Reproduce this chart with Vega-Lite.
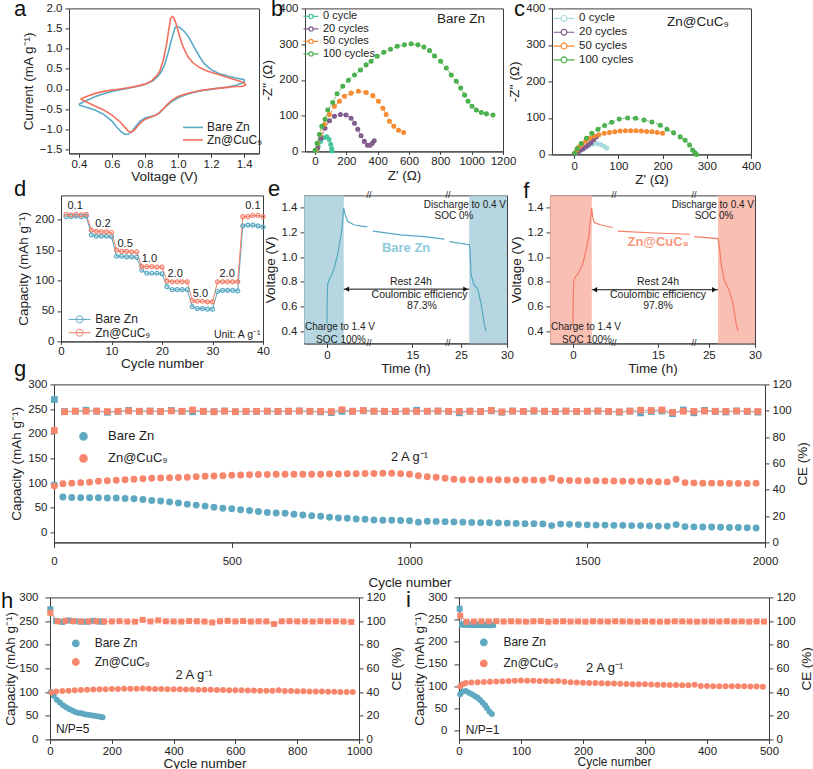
{
"$schema":"https://vega.github.io/schema/vega-lite/v6.json",
"background":"white",
"padding":{"left":0,"top":-2.6,"right":0,"bottom":0},
"config":{
 "font":"Liberation Sans",
 "view":{"stroke":"#3c3c3c","strokeWidth":1},
 "axis":{"grid":false,"domainColor":"#3c3c3c","tickColor":"#3c3c3c","labelColor":"#222","titleColor":"#222","labelFontSize":11.5,"titleFontSize":13.5,"titleFontWeight":"normal","tickSize":4,"labelPadding":3,"labelFlush":false,"labelOverlap":false,"labelSeparation":-100,"titlePadding":4,"tickCount":30},
 "legend":{"labelFontSize":12,"labelColor":"#222","padding":0,"titlePadding":0},
 "text":{"font":"Liberation Sans","color":"#222"}
},
"resolve":{"scale":{"color":"independent"},"legend":{"color":"independent"}},
"spacing":-20,
"datasets":{
"cv":[
{"s":"Bare Zn","v":0.40,"i":-0.38},{"s":"Bare Zn","v":0.45,"i":-0.28},{"s":"Bare Zn","v":0.50,"i":-0.19},{"s":"Bare Zn","v":0.55,"i":-0.12},{"s":"Bare Zn","v":0.60,"i":-0.06},{"s":"Bare Zn","v":0.65,"i":-0.02},{"s":"Bare Zn","v":0.70,"i":0.02},{"s":"Bare Zn","v":0.75,"i":0.06},{"s":"Bare Zn","v":0.80,"i":0.11},{"s":"Bare Zn","v":0.85,"i":0.21},{"s":"Bare Zn","v":0.88,"i":0.32},{"s":"Bare Zn","v":0.90,"i":0.44},{"s":"Bare Zn","v":0.92,"i":0.62},{"s":"Bare Zn","v":0.94,"i":0.90},{"s":"Bare Zn","v":0.96,"i":1.22},{"s":"Bare Zn","v":0.98,"i":1.50},{"s":"Bare Zn","v":0.99,"i":1.56},{"s":"Bare Zn","v":1.01,"i":1.53},{"s":"Bare Zn","v":1.04,"i":1.42},{"s":"Bare Zn","v":1.07,"i":1.25},{"s":"Bare Zn","v":1.10,"i":1.02},{"s":"Bare Zn","v":1.13,"i":0.80},{"s":"Bare Zn","v":1.16,"i":0.62},{"s":"Bare Zn","v":1.20,"i":0.48},{"s":"Bare Zn","v":1.25,"i":0.38},{"s":"Bare Zn","v":1.30,"i":0.32},{"s":"Bare Zn","v":1.35,"i":0.27},{"s":"Bare Zn","v":1.40,"i":0.23},{"s":"Bare Zn","v":1.40,"i":0.16},{"s":"Bare Zn","v":1.35,"i":0.09},{"s":"Bare Zn","v":1.30,"i":0.05},{"s":"Bare Zn","v":1.25,"i":0.02},{"s":"Bare Zn","v":1.20,"i":-0.01},{"s":"Bare Zn","v":1.15,"i":-0.04},{"s":"Bare Zn","v":1.10,"i":-0.08},{"s":"Bare Zn","v":1.05,"i":-0.14},{"s":"Bare Zn","v":1.00,"i":-0.22},{"s":"Bare Zn","v":0.96,"i":-0.32},{"s":"Bare Zn","v":0.92,"i":-0.46},{"s":"Bare Zn","v":0.89,"i":-0.58},{"s":"Bare Zn","v":0.86,"i":-0.66},{"s":"Bare Zn","v":0.83,"i":-0.69},{"s":"Bare Zn","v":0.80,"i":-0.72},{"s":"Bare Zn","v":0.77,"i":-0.80},{"s":"Bare Zn","v":0.74,"i":-0.95},{"s":"Bare Zn","v":0.72,"i":-1.06},{"s":"Bare Zn","v":0.70,"i":-1.12},{"s":"Bare Zn","v":0.68,"i":-1.13},{"s":"Bare Zn","v":0.66,"i":-1.08},{"s":"Bare Zn","v":0.63,"i":-0.95},{"s":"Bare Zn","v":0.60,"i":-0.80},{"s":"Bare Zn","v":0.55,"i":-0.63},{"s":"Bare Zn","v":0.50,"i":-0.53},{"s":"Bare Zn","v":0.45,"i":-0.46},{"s":"Bare Zn","v":0.40,"i":-0.40},
{"s":"Zn@CuC₉","v":0.41,"i":-0.25},{"s":"Zn@CuC₉","v":0.45,"i":-0.18},{"s":"Zn@CuC₉","v":0.50,"i":-0.11},{"s":"Zn@CuC₉","v":0.55,"i":-0.06},{"s":"Zn@CuC₉","v":0.60,"i":-0.03},{"s":"Zn@CuC₉","v":0.65,"i":0.0},{"s":"Zn@CuC₉","v":0.70,"i":0.03},{"s":"Zn@CuC₉","v":0.75,"i":0.07},{"s":"Zn@CuC₉","v":0.80,"i":0.12},{"s":"Zn@CuC₉","v":0.84,"i":0.20},{"s":"Zn@CuC₉","v":0.87,"i":0.32},{"s":"Zn@CuC₉","v":0.89,"i":0.45},{"s":"Zn@CuC₉","v":0.91,"i":0.70},{"s":"Zn@CuC₉","v":0.93,"i":1.10},{"s":"Zn@CuC₉","v":0.945,"i":1.50},{"s":"Zn@CuC₉","v":0.955,"i":1.75},{"s":"Zn@CuC₉","v":0.965,"i":1.80},{"s":"Zn@CuC₉","v":0.975,"i":1.76},{"s":"Zn@CuC₉","v":0.99,"i":1.60},{"s":"Zn@CuC₉","v":1.01,"i":1.30},{"s":"Zn@CuC₉","v":1.03,"i":1.05},{"s":"Zn@CuC₉","v":1.06,"i":0.80},{"s":"Zn@CuC₉","v":1.09,"i":0.65},{"s":"Zn@CuC₉","v":1.13,"i":0.53},{"s":"Zn@CuC₉","v":1.18,"i":0.44},{"s":"Zn@CuC₉","v":1.25,"i":0.35},{"s":"Zn@CuC₉","v":1.32,"i":0.26},{"s":"Zn@CuC₉","v":1.37,"i":0.20},{"s":"Zn@CuC₉","v":1.40,"i":0.15},{"s":"Zn@CuC₉","v":1.41,"i":0.10},{"s":"Zn@CuC₉","v":1.39,"i":0.06},{"s":"Zn@CuC₉","v":1.35,"i":0.06},{"s":"Zn@CuC₉","v":1.30,"i":0.04},{"s":"Zn@CuC₉","v":1.25,"i":0.02},{"s":"Zn@CuC₉","v":1.20,"i":0.0},{"s":"Zn@CuC₉","v":1.15,"i":-0.03},{"s":"Zn@CuC₉","v":1.10,"i":-0.07},{"s":"Zn@CuC₉","v":1.05,"i":-0.12},{"s":"Zn@CuC₉","v":1.00,"i":-0.19},{"s":"Zn@CuC₉","v":0.97,"i":-0.26},{"s":"Zn@CuC₉","v":0.94,"i":-0.36},{"s":"Zn@CuC₉","v":0.91,"i":-0.50},{"s":"Zn@CuC₉","v":0.88,"i":-0.62},{"s":"Zn@CuC₉","v":0.85,"i":-0.68},{"s":"Zn@CuC₉","v":0.82,"i":-0.72},{"s":"Zn@CuC₉","v":0.79,"i":-0.78},{"s":"Zn@CuC₉","v":0.76,"i":-0.90},{"s":"Zn@CuC₉","v":0.74,"i":-1.00},{"s":"Zn@CuC₉","v":0.72,"i":-1.07},{"s":"Zn@CuC₉","v":0.70,"i":-1.05},{"s":"Zn@CuC₉","v":0.68,"i":-0.96},{"s":"Zn@CuC₉","v":0.65,"i":-0.82},{"s":"Zn@CuC₉","v":0.60,"i":-0.65},{"s":"Zn@CuC₉","v":0.55,"i":-0.52},{"s":"Zn@CuC₉","v":0.50,"i":-0.43},{"s":"Zn@CuC₉","v":0.45,"i":-0.33},{"s":"Zn@CuC₉","v":0.41,"i":-0.25}
],
"eisb":[
{"s":"0 cycle","x":10,"y":2},{"s":"0 cycle","x":20,"y":15},{"s":"0 cycle","x":35,"y":28},{"s":"0 cycle","x":55,"y":38},{"s":"0 cycle","x":75,"y":41},{"s":"0 cycle","x":90,"y":33},{"s":"0 cycle","x":100,"y":20},{"s":"0 cycle","x":106,"y":8},{"s":"0 cycle","x":108,"y":1},
{"s":"20 cycles","x":17,"y":9},{"s":"20 cycles","x":38,"y":37},{"s":"20 cycles","x":64,"y":65},{"s":"20 cycles","x":92,"y":86},{"s":"20 cycles","x":124,"y":98},{"s":"20 cycles","x":162,"y":103},{"s":"20 cycles","x":198,"y":102},{"s":"20 cycles","x":230,"y":93},{"s":"20 cycles","x":252,"y":79},{"s":"20 cycles","x":273,"y":62},{"s":"20 cycles","x":294,"y":44},{"s":"20 cycles","x":315,"y":28},{"s":"20 cycles","x":335,"y":17},{"s":"20 cycles","x":352,"y":17},{"s":"20 cycles","x":366,"y":23},{"s":"20 cycles","x":378,"y":30},
{"s":"50 cycles","x":6,"y":3},{"s":"50 cycles","x":17,"y":23},{"s":"50 cycles","x":34,"y":47},{"s":"50 cycles","x":60,"y":75},{"s":"50 cycles","x":92,"y":103},{"s":"50 cycles","x":124,"y":126},{"s":"50 cycles","x":156,"y":140},{"s":"50 cycles","x":188,"y":154},{"s":"50 cycles","x":230,"y":163},{"s":"50 cycles","x":277,"y":168},{"s":"50 cycles","x":326,"y":165},{"s":"50 cycles","x":369,"y":156},{"s":"50 cycles","x":405,"y":140},{"s":"50 cycles","x":433,"y":121},{"s":"50 cycles","x":454,"y":103},{"s":"50 cycles","x":475,"y":84},{"s":"50 cycles","x":503,"y":70},{"s":"50 cycles","x":533,"y":59},{"s":"50 cycles","x":566,"y":53},
{"s":"100 cycles","x":0,"y":3},{"s":"100 cycles","x":13,"y":23},{"s":"100 cycles","x":28,"y":47},{"s":"100 cycles","x":43,"y":70},{"s":"100 cycles","x":64,"y":90},{"s":"100 cycles","x":81,"y":116},{"s":"100 cycles","x":113,"y":137},{"s":"100 cycles","x":141,"y":161},{"s":"100 cycles","x":177,"y":182},{"s":"100 cycles","x":213,"y":199},{"s":"100 cycles","x":252,"y":214},{"s":"100 cycles","x":290,"y":228},{"s":"100 cycles","x":326,"y":242},{"s":"100 cycles","x":358,"y":252},{"s":"100 cycles","x":397,"y":266},{"s":"100 cycles","x":439,"y":277},{"s":"100 cycles","x":482,"y":286},{"s":"100 cycles","x":525,"y":294},{"s":"100 cycles","x":571,"y":298},{"s":"100 cycles","x":614,"y":301},{"s":"100 cycles","x":657,"y":298},{"s":"100 cycles","x":695,"y":292},{"s":"100 cycles","x":731,"y":282},{"s":"100 cycles","x":763,"y":267},{"s":"100 cycles","x":802,"y":252},{"s":"100 cycles","x":838,"y":233},{"s":"100 cycles","x":870,"y":214},{"s":"100 cycles","x":902,"y":196},{"s":"100 cycles","x":930,"y":177},{"s":"100 cycles","x":955,"y":158},{"s":"100 cycles","x":977,"y":140},{"s":"100 cycles","x":1002,"y":126},{"s":"100 cycles","x":1030,"y":116},{"s":"100 cycles","x":1062,"y":109},{"s":"100 cycles","x":1094,"y":105},{"s":"100 cycles","x":1136,"y":102}
],
"eisc":[
{"s":"0 cycle","x":3,"y":1},{"s":"0 cycle","x":12,"y":8},{"s":"0 cycle","x":22,"y":16},{"s":"0 cycle","x":32,"y":23},{"s":"0 cycle","x":42,"y":28},{"s":"0 cycle","x":52,"y":30},{"s":"0 cycle","x":60,"y":27},{"s":"0 cycle","x":68,"y":22},{"s":"0 cycle","x":74,"y":17},
{"s":"20 cycles","x":0,"y":1},{"s":"20 cycles","x":5,"y":4},{"s":"20 cycles","x":10,"y":8},{"s":"20 cycles","x":15,"y":12},{"s":"20 cycles","x":20,"y":15},{"s":"20 cycles","x":26,"y":20},{"s":"20 cycles","x":32,"y":26},{"s":"20 cycles","x":38,"y":32},{"s":"20 cycles","x":44,"y":40},{"s":"20 cycles","x":50,"y":48},
{"s":"50 cycles","x":2,"y":4},{"s":"50 cycles","x":6,"y":12},{"s":"50 cycles","x":11,"y":20},{"s":"50 cycles","x":18,"y":28},{"s":"50 cycles","x":26,"y":36},{"s":"50 cycles","x":35,"y":44},{"s":"50 cycles","x":45,"y":50},{"s":"50 cycles","x":56,"y":54},{"s":"50 cycles","x":68,"y":58},{"s":"50 cycles","x":80,"y":60},{"s":"50 cycles","x":92,"y":62},{"s":"50 cycles","x":104,"y":64},{"s":"50 cycles","x":116,"y":65},{"s":"50 cycles","x":128,"y":65},{"s":"50 cycles","x":140,"y":65},{"s":"50 cycles","x":152,"y":64},{"s":"50 cycles","x":164,"y":63},{"s":"50 cycles","x":176,"y":62},{"s":"50 cycles","x":188,"y":60},{"s":"50 cycles","x":200,"y":58},
{"s":"100 cycles","x":1.5,"y":3},{"s":"100 cycles","x":7,"y":16},{"s":"100 cycles","x":16,"y":30},{"s":"100 cycles","x":28,"y":44},{"s":"100 cycles","x":40,"y":58},{"s":"100 cycles","x":54,"y":69},{"s":"100 cycles","x":69,"y":79},{"s":"100 cycles","x":85,"y":88},{"s":"100 cycles","x":102,"y":97},{"s":"100 cycles","x":121,"y":100},{"s":"100 cycles","x":139,"y":99},{"s":"100 cycles","x":158,"y":94},{"s":"100 cycles","x":176,"y":89},{"s":"100 cycles","x":195,"y":80},{"s":"100 cycles","x":210,"y":69},{"s":"100 cycles","x":225,"y":59},{"s":"100 cycles","x":240,"y":48},{"s":"100 cycles","x":251,"y":39},{"s":"100 cycles","x":261,"y":26},{"s":"100 cycles","x":268,"y":12},{"s":"100 cycles","x":273,"y":5},{"s":"100 cycles","x":277,"y":0}
],
"rate":[
{"c":1,"Bare Zn":205,"Zn@CuC₉":209},{"c":2,"Bare Zn":205,"Zn@CuC₉":208},{"c":3,"Bare Zn":206,"Zn@CuC₉":209},{"c":4,"Bare Zn":205,"Zn@CuC₉":208},{"c":5,"Bare Zn":206,"Zn@CuC₉":209},
{"c":6,"Bare Zn":175,"Zn@CuC₉":183},{"c":7,"Bare Zn":173,"Zn@CuC₉":181},{"c":8,"Bare Zn":173,"Zn@CuC₉":180},{"c":9,"Bare Zn":173,"Zn@CuC₉":180},{"c":10,"Bare Zn":172,"Zn@CuC₉":179},
{"c":11,"Bare Zn":140,"Zn@CuC₉":150},{"c":12,"Bare Zn":140,"Zn@CuC₉":148},{"c":13,"Bare Zn":139,"Zn@CuC₉":148},{"c":14,"Bare Zn":139,"Zn@CuC₉":147},{"c":15,"Bare Zn":138,"Zn@CuC₉":147},
{"c":16,"Bare Zn":117,"Zn@CuC₉":123},{"c":17,"Bare Zn":112,"Zn@CuC₉":123},{"c":18,"Bare Zn":112,"Zn@CuC₉":123},{"c":19,"Bare Zn":112,"Zn@CuC₉":122},{"c":20,"Bare Zn":111,"Zn@CuC₉":122},
{"c":21,"Bare Zn":90,"Zn@CuC₉":99},{"c":22,"Bare Zn":85,"Zn@CuC₉":98},{"c":23,"Bare Zn":85,"Zn@CuC₉":98},{"c":24,"Bare Zn":85,"Zn@CuC₉":98},{"c":25,"Bare Zn":85,"Zn@CuC₉":98},
{"c":26,"Bare Zn":57,"Zn@CuC₉":67},{"c":27,"Bare Zn":54,"Zn@CuC₉":66},{"c":28,"Bare Zn":54,"Zn@CuC₉":66},{"c":29,"Bare Zn":53,"Zn@CuC₉":65},{"c":30,"Bare Zn":53,"Zn@CuC₉":65},
{"c":31,"Bare Zn":82,"Zn@CuC₉":98},{"c":32,"Bare Zn":84,"Zn@CuC₉":98},{"c":33,"Bare Zn":84,"Zn@CuC₉":98},{"c":34,"Bare Zn":84,"Zn@CuC₉":98},{"c":35,"Bare Zn":83,"Zn@CuC₉":98},
{"c":36,"Bare Zn":190,"Zn@CuC₉":205},{"c":37,"Bare Zn":191,"Zn@CuC₉":205},{"c":38,"Bare Zn":191,"Zn@CuC₉":207},{"c":39,"Bare Zn":190,"Zn@CuC₉":207},{"c":40,"Bare Zn":188,"Zn@CuC₉":205}
],
"ve":[
{"t":0,"v":0.46,"seg":1},{"t":0.02,"v":0.62,"seg":1},{"t":0.09,"v":0.78,"seg":1},{"t":0.3,"v":0.82,"seg":1},{"t":0.52,"v":0.84,"seg":1},{"t":0.95,"v":0.91,"seg":1},{"t":1.39,"v":1.02,"seg":1},{"t":1.6,"v":1.09,"seg":1},{"t":1.83,"v":1.17,"seg":1},{"t":2.05,"v":1.29,"seg":1},{"t":2.18,"v":1.40,"seg":1},{"t":2.35,"v":1.35,"seg":1},{"t":2.7,"v":1.29,"seg":1},{"t":3.56,"v":1.26,"seg":1},{"t":5.3,"v":1.245,"seg":1},
{"t":9.97,"v":1.21,"seg":2},{"t":13.55,"v":1.18,"seg":2},{"t":16.5,"v":1.165,"seg":2},{"t":19.03,"v":1.145,"seg":2},
{"t":23.74,"v":1.125,"seg":3},{"t":25.92,"v":1.10,"seg":3},{"t":25.99,"v":1.05,"seg":3},{"t":26.1,"v":0.86,"seg":3},{"t":26.39,"v":0.78,"seg":3},{"t":26.83,"v":0.74,"seg":3},{"t":27.19,"v":0.62,"seg":3},{"t":27.55,"v":0.45,"seg":3},{"t":27.73,"v":0.40,"seg":3}
],
"vf":[
{"t":0,"v":0.45,"seg":1},{"t":0.02,"v":0.65,"seg":1},{"t":0.1,"v":0.80,"seg":1},{"t":0.3,"v":0.84,"seg":1},{"t":0.61,"v":0.86,"seg":1},{"t":1.26,"v":0.94,"seg":1},{"t":1.69,"v":1.05,"seg":1},{"t":2.05,"v":1.16,"seg":1},{"t":2.26,"v":1.29,"seg":1},{"t":2.44,"v":1.40,"seg":1},{"t":2.57,"v":1.32,"seg":1},{"t":2.78,"v":1.28,"seg":1},{"t":3.65,"v":1.26,"seg":1},{"t":5.17,"v":1.24,"seg":1},
{"t":9.96,"v":1.21,"seg":2},{"t":14.54,"v":1.195,"seg":2},{"t":19.04,"v":1.185,"seg":2},
{"t":23.43,"v":1.165,"seg":3},{"t":25.98,"v":1.15,"seg":3},{"t":26.15,"v":1.08,"seg":3},{"t":26.34,"v":0.94,"seg":3},{"t":26.7,"v":0.81,"seg":3},{"t":27.25,"v":0.72,"seg":3},{"t":27.62,"v":0.62,"seg":3},{"t":27.98,"v":0.45,"seg":3},{"t":28.17,"v":0.40,"seg":3}
],
"gcap":[
{"c":1,"Bare Zn":97,"Zn@CuC₉":94},{"c":25,"Bare Zn":72,"Zn@CuC₉":99},{"c":50,"Bare Zn":71,"Zn@CuC₉":100},{"c":75,"Bare Zn":70.5,"Zn@CuC₉":101},{"c":100,"Bare Zn":70.5,"Zn@CuC₉":102},{"c":125,"Bare Zn":70.5,"Zn@CuC₉":104},{"c":150,"Bare Zn":70,"Zn@CuC₉":105},{"c":175,"Bare Zn":70,"Zn@CuC₉":106},{"c":200,"Bare Zn":69,"Zn@CuC₉":107},{"c":225,"Bare Zn":68.5,"Zn@CuC₉":108},{"c":250,"Bare Zn":67,"Zn@CuC₉":109},{"c":275,"Bare Zn":65,"Zn@CuC₉":110},{"c":300,"Bare Zn":64,"Zn@CuC₉":110.5},{"c":325,"Bare Zn":62,"Zn@CuC₉":111},{"c":350,"Bare Zn":60,"Zn@CuC₉":111.5},{"c":375,"Bare Zn":57.5,"Zn@CuC₉":112},{"c":400,"Bare Zn":55.5,"Zn@CuC₉":113},{"c":425,"Bare Zn":53.5,"Zn@CuC₉":114},{"c":450,"Bare Zn":51.5,"Zn@CuC₉":114.5},{"c":475,"Bare Zn":49,"Zn@CuC₉":115},{"c":500,"Bare Zn":48,"Zn@CuC₉":116},{"c":525,"Bare Zn":46,"Zn@CuC₉":116.5},{"c":550,"Bare Zn":44.5,"Zn@CuC₉":117},{"c":575,"Bare Zn":42.5,"Zn@CuC₉":117.5},{"c":600,"Bare Zn":40.5,"Zn@CuC₉":117.5},{"c":625,"Bare Zn":39.7,"Zn@CuC₉":118},{"c":650,"Bare Zn":39,"Zn@CuC₉":118},{"c":675,"Bare Zn":37,"Zn@CuC₉":118},{"c":700,"Bare Zn":35.6,"Zn@CuC₉":118},{"c":725,"Bare Zn":34,"Zn@CuC₉":118},{"c":750,"Bare Zn":33,"Zn@CuC₉":118},{"c":775,"Bare Zn":31,"Zn@CuC₉":118.5},{"c":800,"Bare Zn":29.5,"Zn@CuC₉":118.5},{"c":825,"Bare Zn":29,"Zn@CuC₉":119},{"c":850,"Bare Zn":27.5,"Zn@CuC₉":119},{"c":875,"Bare Zn":26.7,"Zn@CuC₉":119.5},{"c":900,"Bare Zn":25.5,"Zn@CuC₉":119.5},{"c":925,"Bare Zn":25,"Zn@CuC₉":120},{"c":950,"Bare Zn":24.7,"Zn@CuC₉":120},{"c":975,"Bare Zn":24.5,"Zn@CuC₉":119},{"c":1000,"Bare Zn":24,"Zn@CuC₉":118},{"c":1025,"Bare Zn":21,"Zn@CuC₉":115},{"c":1050,"Bare Zn":23,"Zn@CuC₉":113},{"c":1075,"Bare Zn":22.5,"Zn@CuC₉":112},{"c":1100,"Bare Zn":22,"Zn@CuC₉":110},{"c":1125,"Bare Zn":21.5,"Zn@CuC₉":108},{"c":1150,"Bare Zn":21,"Zn@CuC₉":107},{"c":1175,"Bare Zn":20.5,"Zn@CuC₉":107},{"c":1200,"Bare Zn":20,"Zn@CuC₉":107},{"c":1225,"Bare Zn":20,"Zn@CuC₉":107},{"c":1250,"Bare Zn":19.5,"Zn@CuC₉":107},{"c":1275,"Bare Zn":19,"Zn@CuC₉":106.5},{"c":1300,"Bare Zn":18.5,"Zn@CuC₉":106.5},{"c":1325,"Bare Zn":18,"Zn@CuC₉":106.5},{"c":1350,"Bare Zn":18,"Zn@CuC₉":106.5},{"c":1375,"Bare Zn":17.5,"Zn@CuC₉":106},{"c":1400,"Bare Zn":14,"Zn@CuC₉":110},{"c":1425,"Bare Zn":17,"Zn@CuC₉":105.5},{"c":1450,"Bare Zn":16.5,"Zn@CuC₉":105.5},{"c":1475,"Bare Zn":16,"Zn@CuC₉":105},{"c":1500,"Bare Zn":15.5,"Zn@CuC₉":105},{"c":1525,"Bare Zn":15,"Zn@CuC₉":105},{"c":1550,"Bare Zn":15,"Zn@CuC₉":104.5},{"c":1575,"Bare Zn":14.5,"Zn@CuC₉":104.5},{"c":1600,"Bare Zn":14.5,"Zn@CuC₉":104},{"c":1625,"Bare Zn":14,"Zn@CuC₉":104},{"c":1650,"Bare Zn":14,"Zn@CuC₉":104},{"c":1675,"Bare Zn":13.5,"Zn@CuC₉":103.5},{"c":1700,"Bare Zn":13,"Zn@CuC₉":103},{"c":1725,"Bare Zn":13,"Zn@CuC₉":102.5},{"c":1750,"Bare Zn":16,"Zn@CuC₉":108},{"c":1775,"Bare Zn":12,"Zn@CuC₉":101},{"c":1800,"Bare Zn":11.5,"Zn@CuC₉":100.5},{"c":1825,"Bare Zn":11,"Zn@CuC₉":100},{"c":1850,"Bare Zn":11,"Zn@CuC₉":100},{"c":1875,"Bare Zn":10.5,"Zn@CuC₉":100},{"c":1900,"Bare Zn":10,"Zn@CuC₉":99.5},{"c":1925,"Bare Zn":10,"Zn@CuC₉":99.5},{"c":1950,"Bare Zn":9.5,"Zn@CuC₉":99.5},{"c":1975,"Bare Zn":9,"Zn@CuC₉":100}
],
"gce":[
{"c":1,"Bare Zn":108.5,"Zn@CuC₉":85},{"c":30,"Bare Zn":99.4,"Zn@CuC₉":99.2},{"c":60,"Bare Zn":99.7,"Zn@CuC₉":99.6},{"c":90,"Bare Zn":100.4,"Zn@CuC₉":99.6},{"c":120,"Bare Zn":99.6,"Zn@CuC₉":99.8},{"c":150,"Bare Zn":98.8,"Zn@CuC₉":99.4},{"c":180,"Bare Zn":99.5,"Zn@CuC₉":99.6},{"c":210,"Bare Zn":100.3,"Zn@CuC₉":99.8},{"c":240,"Bare Zn":99.6,"Zn@CuC₉":99.5},{"c":270,"Bare Zn":99.7,"Zn@CuC₉":99.7},{"c":300,"Bare Zn":99.4,"Zn@CuC₉":99.4},{"c":330,"Bare Zn":100.2,"Zn@CuC₉":99.8},{"c":360,"Bare Zn":99.5,"Zn@CuC₉":99.6},{"c":390,"Bare Zn":99.2,"Zn@CuC₉":100.6},{"c":420,"Bare Zn":99.6,"Zn@CuC₉":99.5},{"c":450,"Bare Zn":99.3,"Zn@CuC₉":99.2},{"c":480,"Bare Zn":99.8,"Zn@CuC₉":99.7},{"c":510,"Bare Zn":99.2,"Zn@CuC₉":99.3},{"c":540,"Bare Zn":99.5,"Zn@CuC₉":99.6},{"c":570,"Bare Zn":99.4,"Zn@CuC₉":99.6},{"c":600,"Bare Zn":99.6,"Zn@CuC₉":99.7},{"c":630,"Bare Zn":99.5,"Zn@CuC₉":99.5},{"c":660,"Bare Zn":99.6,"Zn@CuC₉":99.6},{"c":690,"Bare Zn":99.8,"Zn@CuC₉":99.8},{"c":720,"Bare Zn":99.6,"Zn@CuC₉":99.5},{"c":750,"Bare Zn":99.1,"Zn@CuC₉":99.6},{"c":780,"Bare Zn":98.6,"Zn@CuC₉":99.4},{"c":810,"Bare Zn":99.5,"Zn@CuC₉":100.8},{"c":840,"Bare Zn":99.6,"Zn@CuC₉":99.6},{"c":870,"Bare Zn":99.9,"Zn@CuC₉":100.2},{"c":900,"Bare Zn":99.6,"Zn@CuC₉":99.7},{"c":930,"Bare Zn":99.5,"Zn@CuC₉":99.6},{"c":960,"Bare Zn":99.4,"Zn@CuC₉":99.5},{"c":990,"Bare Zn":99.6,"Zn@CuC₉":99.7},{"c":1020,"Bare Zn":100.4,"Zn@CuC₉":99.4},{"c":1050,"Bare Zn":99.6,"Zn@CuC₉":99.6},{"c":1080,"Bare Zn":99.7,"Zn@CuC₉":99.8},{"c":1110,"Bare Zn":99.5,"Zn@CuC₉":99.6},{"c":1140,"Bare Zn":98.4,"Zn@CuC₉":99.5},{"c":1170,"Bare Zn":99.6,"Zn@CuC₉":99.7},{"c":1200,"Bare Zn":99.4,"Zn@CuC₉":99.4},{"c":1230,"Bare Zn":99.9,"Zn@CuC₉":100.3},{"c":1260,"Bare Zn":98.8,"Zn@CuC₉":99.2},{"c":1290,"Bare Zn":99.7,"Zn@CuC₉":99.8},{"c":1320,"Bare Zn":99.5,"Zn@CuC₉":99.5},{"c":1350,"Bare Zn":99.6,"Zn@CuC₉":100.1},{"c":1380,"Bare Zn":99.6,"Zn@CuC₉":99.6},{"c":1410,"Bare Zn":99.3,"Zn@CuC₉":99.4},{"c":1440,"Bare Zn":99.7,"Zn@CuC₉":99.7},{"c":1470,"Bare Zn":99.5,"Zn@CuC₉":99.5},{"c":1500,"Bare Zn":99.6,"Zn@CuC₉":99.6},{"c":1530,"Bare Zn":99.7,"Zn@CuC₉":99.8},{"c":1560,"Bare Zn":99.5,"Zn@CuC₉":99.5},{"c":1590,"Bare Zn":98.9,"Zn@CuC₉":99.2},{"c":1620,"Bare Zn":99.7,"Zn@CuC₉":99.7},{"c":1650,"Bare Zn":98.3,"Zn@CuC₉":100.4},{"c":1680,"Bare Zn":99.4,"Zn@CuC₉":100.2},{"c":1710,"Bare Zn":99.8,"Zn@CuC₉":100.6},{"c":1740,"Bare Zn":97.8,"Zn@CuC₉":98.8},{"c":1770,"Bare Zn":100.6,"Zn@CuC₉":99.6},{"c":1800,"Bare Zn":98.4,"Zn@CuC₉":99.5},{"c":1830,"Bare Zn":100.3,"Zn@CuC₉":99.7},{"c":1860,"Bare Zn":99.5,"Zn@CuC₉":99.6},{"c":1890,"Bare Zn":99.0,"Zn@CuC₉":99.5},{"c":1920,"Bare Zn":99.8,"Zn@CuC₉":99.8},{"c":1950,"Bare Zn":99.5,"Zn@CuC₉":99.6},{"c":1980,"Bare Zn":98.9,"Zn@CuC₉":99.4}
],
"hcap":[
{"s":"Bare Zn","c":3,"v":100},{"s":"Bare Zn","c":12,"v":92},{"s":"Bare Zn","c":22,"v":84},{"s":"Bare Zn","c":32,"v":78},{"s":"Bare Zn","c":42,"v":72},{"s":"Bare Zn","c":52,"v":68},{"s":"Bare Zn","c":62,"v":64},{"s":"Bare Zn","c":72,"v":61},{"s":"Bare Zn","c":82,"v":58},{"s":"Bare Zn","c":92,"v":56},{"s":"Bare Zn","c":102,"v":55},{"s":"Bare Zn","c":112,"v":53},{"s":"Bare Zn","c":122,"v":52},{"s":"Bare Zn","c":132,"v":51},{"s":"Bare Zn","c":142,"v":50},{"s":"Bare Zn","c":152,"v":49},{"s":"Bare Zn","c":162,"v":48},{"s":"Bare Zn","c":170,"v":47},
{"s":"Zn@CuC₉","c":5,"v":99},{"s":"Zn@CuC₉","c":20,"v":101},{"s":"Zn@CuC₉","c":40,"v":102},{"s":"Zn@CuC₉","c":60,"v":103},{"s":"Zn@CuC₉","c":80,"v":104},{"s":"Zn@CuC₉","c":100,"v":104.5},{"s":"Zn@CuC₉","c":120,"v":105},{"s":"Zn@CuC₉","c":140,"v":105.5},{"s":"Zn@CuC₉","c":160,"v":106},{"s":"Zn@CuC₉","c":180,"v":106},{"s":"Zn@CuC₉","c":200,"v":106.5},{"s":"Zn@CuC₉","c":220,"v":106.5},{"s":"Zn@CuC₉","c":240,"v":107},{"s":"Zn@CuC₉","c":260,"v":107},{"s":"Zn@CuC₉","c":280,"v":107},{"s":"Zn@CuC₉","c":300,"v":107.5},{"s":"Zn@CuC₉","c":320,"v":107},{"s":"Zn@CuC₉","c":340,"v":106.5},{"s":"Zn@CuC₉","c":360,"v":106.5},{"s":"Zn@CuC₉","c":380,"v":106},{"s":"Zn@CuC₉","c":400,"v":106},{"s":"Zn@CuC₉","c":420,"v":106},{"s":"Zn@CuC₉","c":440,"v":105.5},{"s":"Zn@CuC₉","c":460,"v":105.5},{"s":"Zn@CuC₉","c":480,"v":105},{"s":"Zn@CuC₉","c":500,"v":105},{"s":"Zn@CuC₉","c":520,"v":105},{"s":"Zn@CuC₉","c":540,"v":104.5},{"s":"Zn@CuC₉","c":560,"v":104.5},{"s":"Zn@CuC₉","c":580,"v":104},{"s":"Zn@CuC₉","c":600,"v":104},{"s":"Zn@CuC₉","c":620,"v":104},{"s":"Zn@CuC₉","c":640,"v":103.5},{"s":"Zn@CuC₉","c":660,"v":103.5},{"s":"Zn@CuC₉","c":680,"v":103},{"s":"Zn@CuC₉","c":700,"v":103},{"s":"Zn@CuC₉","c":720,"v":103},{"s":"Zn@CuC₉","c":740,"v":104},{"s":"Zn@CuC₉","c":760,"v":102},{"s":"Zn@CuC₉","c":780,"v":102},{"s":"Zn@CuC₉","c":800,"v":101.5},{"s":"Zn@CuC₉","c":820,"v":101.5},{"s":"Zn@CuC₉","c":840,"v":101},{"s":"Zn@CuC₉","c":860,"v":101},{"s":"Zn@CuC₉","c":880,"v":101},{"s":"Zn@CuC₉","c":900,"v":100.5},{"s":"Zn@CuC₉","c":920,"v":100.5},{"s":"Zn@CuC₉","c":940,"v":100},{"s":"Zn@CuC₉","c":960,"v":100},{"s":"Zn@CuC₉","c":980,"v":100}
],
"hce":[
{"s":"Bare Zn","c":1,"v":110},{"s":"Bare Zn","c":20,"v":100},{"s":"Bare Zn","c":40,"v":99.3},{"s":"Bare Zn","c":60,"v":100.5},{"s":"Bare Zn","c":80,"v":99.8},{"s":"Bare Zn","c":100,"v":99.5},{"s":"Bare Zn","c":120,"v":99.4},{"s":"Bare Zn","c":140,"v":100.2},{"s":"Bare Zn","c":160,"v":99.6},{"s":"Bare Zn","c":170,"v":99.5},
{"s":"Zn@CuC₉","c":1,"v":107},{"s":"Zn@CuC₉","c":25,"v":99.8},{"s":"Zn@CuC₉","c":50,"v":100.2},{"s":"Zn@CuC₉","c":75,"v":100},{"s":"Zn@CuC₉","c":100,"v":99.6},{"s":"Zn@CuC₉","c":125,"v":99.7},{"s":"Zn@CuC₉","c":150,"v":99.8},{"s":"Zn@CuC₉","c":175,"v":99.6},{"s":"Zn@CuC₉","c":200,"v":99.7},{"s":"Zn@CuC₉","c":225,"v":99.9},{"s":"Zn@CuC₉","c":250,"v":99.6},{"s":"Zn@CuC₉","c":275,"v":99.5},{"s":"Zn@CuC₉","c":300,"v":101},{"s":"Zn@CuC₉","c":325,"v":99.7},{"s":"Zn@CuC₉","c":350,"v":100.6},{"s":"Zn@CuC₉","c":375,"v":99.8},{"s":"Zn@CuC₉","c":400,"v":99.7},{"s":"Zn@CuC₉","c":425,"v":99.6},{"s":"Zn@CuC₉","c":450,"v":100},{"s":"Zn@CuC₉","c":475,"v":99.8},{"s":"Zn@CuC₉","c":500,"v":99.6},{"s":"Zn@CuC₉","c":525,"v":98.8},{"s":"Zn@CuC₉","c":550,"v":99.8},{"s":"Zn@CuC₉","c":575,"v":100.2},{"s":"Zn@CuC₉","c":600,"v":99.7},{"s":"Zn@CuC₉","c":625,"v":100},{"s":"Zn@CuC₉","c":650,"v":99.6},{"s":"Zn@CuC₉","c":675,"v":99.8},{"s":"Zn@CuC₉","c":700,"v":99.7},{"s":"Zn@CuC₉","c":725,"v":97.5},{"s":"Zn@CuC₉","c":750,"v":99.8},{"s":"Zn@CuC₉","c":775,"v":99.9},{"s":"Zn@CuC₉","c":800,"v":99.7},{"s":"Zn@CuC₉","c":825,"v":99.8},{"s":"Zn@CuC₉","c":850,"v":99.6},{"s":"Zn@CuC₉","c":875,"v":99.9},{"s":"Zn@CuC₉","c":900,"v":99.7},{"s":"Zn@CuC₉","c":925,"v":99.8},{"s":"Zn@CuC₉","c":950,"v":99.6},{"s":"Zn@CuC₉","c":975,"v":99.3}
],
"icap":[
{"s":"Bare Zn","c":2,"v":82},{"s":"Bare Zn","c":6,"v":88},{"s":"Bare Zn","c":11,"v":89},{"s":"Bare Zn","c":16,"v":85},{"s":"Bare Zn","c":21,"v":82},{"s":"Bare Zn","c":26,"v":77},{"s":"Bare Zn","c":30,"v":74},{"s":"Bare Zn","c":34,"v":69},{"s":"Bare Zn","c":38,"v":63},{"s":"Bare Zn","c":42,"v":57},{"s":"Bare Zn","c":45,"v":51},{"s":"Bare Zn","c":49,"v":43},{"s":"Bare Zn","c":53,"v":37},
{"s":"Zn@CuC₉","c":2,"v":100},{"s":"Zn@CuC₉","c":6,"v":104},{"s":"Zn@CuC₉","c":11,"v":107},{"s":"Zn@CuC₉","c":20,"v":108},{"s":"Zn@CuC₉","c":30,"v":109},{"s":"Zn@CuC₉","c":40,"v":109.5},{"s":"Zn@CuC₉","c":50,"v":110},{"s":"Zn@CuC₉","c":60,"v":110.5},{"s":"Zn@CuC₉","c":70,"v":111},{"s":"Zn@CuC₉","c":80,"v":111.5},{"s":"Zn@CuC₉","c":90,"v":112},{"s":"Zn@CuC₉","c":100,"v":112.5},{"s":"Zn@CuC₉","c":110,"v":112},{"s":"Zn@CuC₉","c":120,"v":112},{"s":"Zn@CuC₉","c":130,"v":111.5},{"s":"Zn@CuC₉","c":140,"v":111.5},{"s":"Zn@CuC₉","c":150,"v":111},{"s":"Zn@CuC₉","c":160,"v":111.5},{"s":"Zn@CuC₉","c":170,"v":110},{"s":"Zn@CuC₉","c":180,"v":109},{"s":"Zn@CuC₉","c":190,"v":108},{"s":"Zn@CuC₉","c":200,"v":107.5},{"s":"Zn@CuC₉","c":210,"v":107},{"s":"Zn@CuC₉","c":220,"v":107},{"s":"Zn@CuC₉","c":230,"v":106.5},{"s":"Zn@CuC₉","c":240,"v":106},{"s":"Zn@CuC₉","c":250,"v":106},{"s":"Zn@CuC₉","c":260,"v":105.5},{"s":"Zn@CuC₉","c":270,"v":105},{"s":"Zn@CuC₉","c":280,"v":104.5},{"s":"Zn@CuC₉","c":290,"v":104},{"s":"Zn@CuC₉","c":300,"v":104},{"s":"Zn@CuC₉","c":310,"v":103.5},{"s":"Zn@CuC₉","c":320,"v":103},{"s":"Zn@CuC₉","c":330,"v":103},{"s":"Zn@CuC₉","c":340,"v":102.5},{"s":"Zn@CuC₉","c":350,"v":102.5},{"s":"Zn@CuC₉","c":360,"v":102},{"s":"Zn@CuC₉","c":370,"v":102},{"s":"Zn@CuC₉","c":380,"v":103},{"s":"Zn@CuC₉","c":390,"v":100.5},{"s":"Zn@CuC₉","c":400,"v":100.5},{"s":"Zn@CuC₉","c":410,"v":100},{"s":"Zn@CuC₉","c":420,"v":100},{"s":"Zn@CuC₉","c":430,"v":100},{"s":"Zn@CuC₉","c":440,"v":99.5},{"s":"Zn@CuC₉","c":450,"v":99.5},{"s":"Zn@CuC₉","c":460,"v":99.5},{"s":"Zn@CuC₉","c":470,"v":99},{"s":"Zn@CuC₉","c":480,"v":99},{"s":"Zn@CuC₉","c":490,"v":98.5}
],
"ice":[
{"s":"Bare Zn","c":1,"v":110.4},{"s":"Bare Zn","c":5,"v":97.2},{"s":"Bare Zn","c":10,"v":96.8},{"s":"Bare Zn","c":15,"v":97},{"s":"Bare Zn","c":20,"v":96.6},{"s":"Bare Zn","c":25,"v":96.9},{"s":"Bare Zn","c":30,"v":96.7},{"s":"Bare Zn","c":35,"v":97},{"s":"Bare Zn","c":40,"v":96.6},{"s":"Bare Zn","c":45,"v":96.8},{"s":"Bare Zn","c":50,"v":96.5},{"s":"Bare Zn","c":55,"v":96.8},
{"s":"Zn@CuC₉","c":2,"v":104.5},{"s":"Zn@CuC₉","c":12,"v":99.4},{"s":"Zn@CuC₉","c":24,"v":99.6},{"s":"Zn@CuC₉","c":36,"v":99.8},{"s":"Zn@CuC₉","c":48,"v":99.7},{"s":"Zn@CuC₉","c":60,"v":99.9},{"s":"Zn@CuC₉","c":72,"v":99.6},{"s":"Zn@CuC₉","c":84,"v":99.8},{"s":"Zn@CuC₉","c":96,"v":99.7},{"s":"Zn@CuC₉","c":108,"v":99.5},{"s":"Zn@CuC₉","c":120,"v":99.8},{"s":"Zn@CuC₉","c":132,"v":99.9},{"s":"Zn@CuC₉","c":144,"v":99.4},{"s":"Zn@CuC₉","c":156,"v":99.7},{"s":"Zn@CuC₉","c":168,"v":99.8},{"s":"Zn@CuC₉","c":180,"v":99.6},{"s":"Zn@CuC₉","c":192,"v":99.7},{"s":"Zn@CuC₉","c":204,"v":99.5},{"s":"Zn@CuC₉","c":216,"v":99.8},{"s":"Zn@CuC₉","c":228,"v":99.7},{"s":"Zn@CuC₉","c":240,"v":99.6},{"s":"Zn@CuC₉","c":252,"v":99.8},{"s":"Zn@CuC₉","c":264,"v":99.7},{"s":"Zn@CuC₉","c":276,"v":99.6},{"s":"Zn@CuC₉","c":288,"v":99.5},{"s":"Zn@CuC₉","c":300,"v":99.7},{"s":"Zn@CuC₉","c":312,"v":99.6},{"s":"Zn@CuC₉","c":324,"v":99.5},{"s":"Zn@CuC₉","c":336,"v":99.6},{"s":"Zn@CuC₉","c":348,"v":99.8},{"s":"Zn@CuC₉","c":360,"v":99.7},{"s":"Zn@CuC₉","c":372,"v":99.6},{"s":"Zn@CuC₉","c":384,"v":99.5},{"s":"Zn@CuC₉","c":396,"v":99.6},{"s":"Zn@CuC₉","c":408,"v":99.7},{"s":"Zn@CuC₉","c":420,"v":99.6},{"s":"Zn@CuC₉","c":432,"v":99.8},{"s":"Zn@CuC₉","c":444,"v":99.6},{"s":"Zn@CuC₉","c":456,"v":99.7},{"s":"Zn@CuC₉","c":468,"v":99.5},{"s":"Zn@CuC₉","c":480,"v":99.7},{"s":"Zn@CuC₉","c":492,"v":99.6}
]
},
"vconcat":[
{"hconcat":[
{"width":68,"height":186.7,"view":{"stroke":null},"data":{"values":[]},"mark":"point"},
{"width":190,"height":145,
 "layer":[
  {"data":{"name":"cv"},
   "mark":{"type":"line","strokeWidth":1.6},
   "encoding":{
    "x":{"field":"v","type":"quantitative","scale":{"domain":[0.34,1.49],"nice":false,"zero":false},"axis":{"values":[0.4,0.6,0.8,1.0,1.2,1.4],"tickCount":30,"format":".1f","title":"Voltage (V)","labelPadding":1,"titlePadding":0,"labelOverlap":false}},
    "y":{"field":"i","type":"quantitative","scale":{"domain":[-1.6,2.0],"nice":false,"zero":false},"axis":{"values":[-1.5,-1,-0.5,0,0.5,1,1.5,2],"tickCount":30,"format":".1f","title":"Current (mA g⁻¹)","labelOverlap":false}},
    "color":{"field":"s","type":"nominal","scale":{"domain":["Bare Zn","Zn@CuC₉"],"range":["#5aaac6","#f36f5b"]},"legend":{"orient":"none","legendX":118,"legendY":113,"title":null,"symbolType":"M-2.5,0H2.5","symbolSize":64,"symbolStrokeWidth":1.6,"labelFontSize":12,"rowPadding":0.5,"labelOffset":8}},
    "order":{"value":null}
   }},
  {"data":{"values":[{}]},"mark":{"type":"text","text":"a","fontSize":22,"align":"left","baseline":"alphabetic","color":"#111"},"encoding":{"x":{"datum":0.007},"y":{"datum":1.80}}}
 ]},
{"width":46,"height":1,"view":{"stroke":null},"data":{"values":[]},"mark":"point"},
{"width":198,"height":143,
 "layer":[
  {"data":{"name":"eisb"},
   "encoding":{
    "x":{"field":"x","type":"quantitative","scale":{"domain":[-64,1200],"nice":false,"zero":false},"axis":{"values":[0,200,400,600,800,1000,1200],"tickCount":30,"format":"d","title":"Z' (Ω)","tickSize":3,"labelPadding":1,"titlePadding":2,"labelOverlap":false}},
    "y":{"field":"y","type":"quantitative","scale":{"domain":[0,400],"nice":false},"axis":{"values":[0,100,200,300,400],"tickCount":30,"title":"-Z'' (Ω)","labelOverlap":false}},
    "color":{"field":"s","type":"nominal","scale":{"domain":["0 cycle","20 cycles","50 cycles","100 cycles"],"range":["#45c49c","#7e5b8c","#f7892f","#48b04a"]},"legend":{"orient":"none","legendX":0.5,"legendY":2.5,"title":null,"symbolType":"M-2.5,0H-0.7M0.7,0H2.5M0.7,0A0.7,0.7,0,1,1,-0.7,0A0.7,0.7,0,1,1,0.7,0Z","symbolSize":36,"symbolStrokeWidth":1.2,"labelFontSize":11,"rowPadding":0.5,"labelOffset":6.5}}
   },
   "layer":[
    {"mark":{"type":"line","strokeWidth":0.8,"strokeDash":[3,2]}},
    {"mark":{"type":"point","filled":false,"size":8,"strokeWidth":2.2,"opacity":1}}
   ]},
  {"data":{"values":[{}]},"mark":{"type":"text","text":"Bare Zn","fontSize":13.5},"encoding":{"x":{"datum":932},"y":{"datum":370}}},
  {"data":{"values":[{}]},"mark":{"type":"text","text":"b","fontSize":22,"align":"left","baseline":"alphabetic","color":"#111"},"encoding":{"x":{"datum":-281},"y":{"datum":377.6}}}
 ]},
{"width":49,"height":1,"view":{"stroke":null},"data":{"values":[]},"mark":"point"},
{"width":199,"height":146,
 "layer":[
  {"data":{"name":"eisc"},
   "encoding":{
    "x":{"field":"x","type":"quantitative","scale":{"domain":[-50,400],"nice":false,"zero":false},"axis":{"values":[0,100,200,300,400],"tickCount":30,"title":"Z' (Ω)","labelPadding":2,"titlePadding":1,"labelOverlap":false}},
    "y":{"field":"y","type":"quantitative","scale":{"domain":[0,400],"nice":false},"axis":{"values":[0,100,200,300,400],"tickCount":30,"title":"-Z'' (Ω)","labelOverlap":false}},
    "color":{"field":"s","type":"nominal","scale":{"domain":["0 cycle","20 cycles","50 cycles","100 cycles"],"range":["#a6dbdf","#7e5b8c","#f7892f","#48b04a"]},"legend":{"orient":"none","legendX":6.3,"legendY":4.3,"title":null,"symbolType":"M-2.5,0H-0.7M0.7,0H2.5M0.7,0A0.7,0.7,0,1,1,-0.7,0A0.7,0.7,0,1,1,0.7,0Z","symbolSize":70,"symbolStrokeWidth":1.2,"labelFontSize":11.5,"rowPadding":0.8,"labelOffset":9.3}}
   },
   "layer":[
    {"mark":{"type":"line","strokeWidth":0.8,"strokeDash":[3,2]}},
    {"mark":{"type":"point","filled":false,"size":8,"strokeWidth":2.2,"opacity":1}}
   ]},
  {"data":{"values":[{}]},"mark":{"type":"text","text":"Zn@CuC₉","fontSize":13.5},"encoding":{"x":{"datum":280},"y":{"datum":362}}},
  {"data":{"values":[{}]},"mark":{"type":"text","text":"c","fontSize":22,"align":"left","baseline":"alphabetic","color":"#111"},"encoding":{"x":{"datum":-136},"y":{"datum":378}}}
 ]}
],"spacing":0,"bounds":"flush","resolve":{"scale":{"color":"independent"},"legend":{"color":"independent"}}},
{"hconcat":[
{"width":60,"height":181.1,"view":{"stroke":null},"data":{"values":[]},"mark":"point"},
{"width":202,"height":146,
 "layer":[
  {"data":{"name":"rate"},"transform":[{"fold":["Bare Zn","Zn@CuC₉"],"as":["s","cap"]}],
   "encoding":{
    "x":{"field":"c","type":"quantitative","scale":{"domain":[0,40],"nice":false},"axis":{"values":[0,10,20,30,40],"tickCount":30,"title":"Cycle number","tickSize":3,"labelPadding":1,"titlePadding":0,"labelOverlap":false}},
    "y":{"field":"cap","type":"quantitative","scale":{"domain":[0,240],"nice":false},"axis":{"values":[0,50,100,150,200],"tickCount":30,"title":"Capacity (mAh g⁻¹)","labelOverlap":false}},
    "color":{"field":"s","type":"nominal","scale":{"domain":["Bare Zn","Zn@CuC₉"],"range":["#56a8c2","#f47c65"]},"legend":{"orient":"none","legendX":12.6,"legendY":118,"title":null,"symbolType":"M-2.5,0H2.5M0.8,0A0.8,0.8,0,1,1,-0.8,0A0.8,0.8,0,1,1,0.8,0Z","symbolSize":77,"symbolStrokeWidth":1,"labelFontSize":12,"rowPadding":1.3,"labelOffset":9.6}}
   },
   "layer":[
    {"mark":{"type":"line","strokeWidth":1}},
    {"mark":{"type":"point","filled":false,"size":16,"strokeWidth":1.2,"opacity":1}}
   ]},
  {"data":{"values":[{}]},"mark":{"type":"text","text":"0.1","fontSize":11},"encoding":{"x":{"datum":2.8},"y":{"datum":223}}},
  {"data":{"values":[{}]},"mark":{"type":"text","text":"0.2","fontSize":11},"encoding":{"x":{"datum":8.3},"y":{"datum":193}}},
  {"data":{"values":[{}]},"mark":{"type":"text","text":"0.5","fontSize":11},"encoding":{"x":{"datum":12.7},"y":{"datum":160}}},
  {"data":{"values":[{}]},"mark":{"type":"text","text":"1.0","fontSize":11},"encoding":{"x":{"datum":17.5},"y":{"datum":135}}},
  {"data":{"values":[{}]},"mark":{"type":"text","text":"2.0","fontSize":11},"encoding":{"x":{"datum":22.6},"y":{"datum":111}}},
  {"data":{"values":[{}]},"mark":{"type":"text","text":"5.0","fontSize":11},"encoding":{"x":{"datum":27.6},"y":{"datum":78}}},
  {"data":{"values":[{}]},"mark":{"type":"text","text":"2.0","fontSize":11},"encoding":{"x":{"datum":32.9},"y":{"datum":111}}},
  {"data":{"values":[{}]},"mark":{"type":"text","text":"0.1","fontSize":11},"encoding":{"x":{"datum":38},"y":{"datum":223}}},
  {"data":{"values":[{}]},"mark":{"type":"text","text":"Unit: A g⁻¹","fontSize":10.5,"align":"right"},"encoding":{"x":{"datum":39.5},"y":{"datum":11}}},
  {"data":{"values":[{}]},"mark":{"type":"text","text":"d","fontSize":22,"align":"left","baseline":"alphabetic","color":"#111"},"encoding":{"x":{"datum":-9.3},"y":{"datum":238.4}}}
 ]},
{"width":41,"height":1,"view":{"stroke":null},"data":{"values":[]},"mark":"point"},
{"width":203,"height":148,
 "layer":[
  {"data":{"values":[{"t0":-3,"t1":2.2},{"t0":25.9,"t1":30}]},"mark":{"type":"rect","color":"#a9d0dc","opacity":0.85},
   "encoding":{
    "x":{"field":"t0","type":"quantitative","scale":{"domain":[-3,5.5,9.5,19.5,23.6,30],"range":[0,65,65,144,144,203],"nice":false,"zero":false},"axis":{"values":[0,15,25,30],"tickCount":30,"title":"Time (h)","labelPadding":2,"titlePadding":1,"labelOverlap":false}},
    "x2":{"field":"t1"},
    "y":{"datum":0.3,"type":"quantitative","scale":{"domain":[0.3,1.5],"nice":false,"zero":false},"axis":{"values":[0.4,0.6,0.8,1.0,1.2,1.4],"tickCount":30,"format":".1f","title":"Voltage (V)","labelOverlap":false}},
    "y2":{"datum":1.5}}},
  {"data":{"name":"ve"},"mark":{"type":"line","color":"#56a8c2","strokeWidth":1.2},"encoding":{"x":{"field":"t","type":"quantitative"},"y":{"field":"v","type":"quantitative"},"detail":{"field":"seg"}}},
  {"data":{"values":[{}]},"mark":{"type":"rule","color":"#111","strokeWidth":1},"encoding":{"x":{"datum":2.2},"x2":{"datum":25.9},"y":{"datum":0.74}}},
  {"data":{"values":[{}]},"mark":{"type":"point","shape":"triangle-left","filled":true,"color":"#111","size":28,"opacity":1},"encoding":{"x":{"datum":2.6},"y":{"datum":0.74}}},
  {"data":{"values":[{}]},"mark":{"type":"point","shape":"triangle-right","filled":true,"color":"#111","size":28,"opacity":1},"encoding":{"x":{"datum":25.5},"y":{"datum":0.74}}},
  {"data":{"values":[{"t":7.5},{"t":21.5}]},"mark":{"type":"text","text":"//","fontSize":9},"encoding":{"x":{"field":"t","type":"quantitative"},"y":{"datum":1.5}}},
  {"data":{"values":[{"t":7.5},{"t":21.5}]},"mark":{"type":"text","text":"//","fontSize":9},"encoding":{"x":{"field":"t","type":"quantitative"},"y":{"datum":0.3}}},
  {"data":{"values":[{}]},"mark":{"type":"text","text":"Discharge to 0.4 V","fontSize":10,"align":"right","dx":-1},"encoding":{"x":{"datum":30},"y":{"datum":1.42}}},
  {"data":{"values":[{}]},"mark":{"type":"text","text":"SOC  0%","fontSize":10},"encoding":{"x":{"datum":24.25},"y":{"datum":1.33}}},
  {"data":{"values":[{}]},"mark":{"type":"text","text":"Bare Zn","fontSize":13,"fontWeight":"bold","color":"#8ecbdc"},"encoding":{"x":{"datum":14.2},"y":{"datum":1.07}}},
  {"data":{"values":[{}]},"mark":{"type":"text","text":"Rest 24h","fontSize":10.5},"encoding":{"x":{"datum":14.8},"y":{"datum":0.80}}},
  {"data":{"values":[{}]},"mark":{"type":"text","text":"Coulombic efficiency","fontSize":10.5},"encoding":{"x":{"datum":15.9},"y":{"datum":0.695}}},
  {"data":{"values":[{}]},"mark":{"type":"text","text":"87.3%","fontSize":10.5},"encoding":{"x":{"datum":16.2},"y":{"datum":0.605}}},
  {"data":{"values":[{}]},"mark":{"type":"text","text":"Charge to 1.4 V","fontSize":10,"align":"left","dx":1},"encoding":{"x":{"datum":-3},"y":{"datum":0.43}}},
  {"data":{"values":[{}]},"mark":{"type":"text","text":"SOC  100%","fontSize":10},"encoding":{"x":{"datum":1.83},"y":{"datum":0.33}}},
  {"data":{"values":[{}]},"mark":{"type":"text","text":"e","fontSize":22,"align":"left","baseline":"alphabetic","color":"#111"},"encoding":{"x":{"datum":-7.7},"y":{"datum":1.492}}}
 ]},
{"width":43,"height":1,"view":{"stroke":null},"data":{"values":[]},"mark":"point"},
{"width":205,"height":148,
 "layer":[
  {"data":{"values":[{"t0":-3,"t1":2.45},{"t0":26.0,"t1":30}]},"mark":{"type":"rect","color":"#f8b4a6","opacity":0.85},
   "encoding":{
    "x":{"field":"t0","type":"quantitative","scale":{"domain":[-3,5.35,9.5,19.5,23.4,30],"range":[0,64,64,144,144,205],"nice":false,"zero":false},"axis":{"values":[0,15,25,30],"tickCount":30,"title":"Time (h)","labelPadding":2,"titlePadding":1,"labelOverlap":false}},
    "x2":{"field":"t1"},
    "y":{"datum":0.3,"type":"quantitative","scale":{"domain":[0.3,1.5],"nice":false,"zero":false},"axis":{"values":[0.4,0.6,0.8,1.0,1.2,1.4],"tickCount":30,"format":".1f","title":"Voltage (V)","labelOverlap":false}},
    "y2":{"datum":1.5}}},
  {"data":{"name":"vf"},"mark":{"type":"line","color":"#f47c65","strokeWidth":1.2},"encoding":{"x":{"field":"t","type":"quantitative"},"y":{"field":"v","type":"quantitative"},"detail":{"field":"seg"}}},
  {"data":{"values":[{}]},"mark":{"type":"rule","color":"#111","strokeWidth":1},"encoding":{"x":{"datum":2.45},"x2":{"datum":26.0},"y":{"datum":0.735}}},
  {"data":{"values":[{}]},"mark":{"type":"point","shape":"triangle-left","filled":true,"color":"#111","size":28,"opacity":1},"encoding":{"x":{"datum":2.85},"y":{"datum":0.735}}},
  {"data":{"values":[{}]},"mark":{"type":"point","shape":"triangle-right","filled":true,"color":"#111","size":28,"opacity":1},"encoding":{"x":{"datum":25.6},"y":{"datum":0.735}}},
  {"data":{"values":[{"t":7.5},{"t":21.5}]},"mark":{"type":"text","text":"//","fontSize":9},"encoding":{"x":{"field":"t","type":"quantitative"},"y":{"datum":1.5}}},
  {"data":{"values":[{"t":7.5},{"t":21.5}]},"mark":{"type":"text","text":"//","fontSize":9},"encoding":{"x":{"field":"t","type":"quantitative"},"y":{"datum":0.3}}},
  {"data":{"values":[{}]},"mark":{"type":"text","text":"Discharge to 0.4 V","fontSize":10,"align":"right","dx":-1},"encoding":{"x":{"datum":30},"y":{"datum":1.42}}},
  {"data":{"values":[{}]},"mark":{"type":"text","text":"SOC  0%","fontSize":10},"encoding":{"x":{"datum":25.57},"y":{"datum":1.33}}},
  {"data":{"values":[{}]},"mark":{"type":"text","text":"Zn@CuC₉","fontSize":13,"fontWeight":"bold","color":"#f7987e"},"encoding":{"x":{"datum":15},"y":{"datum":1.12}}},
  {"data":{"values":[{}]},"mark":{"type":"text","text":"Rest 24h","fontSize":10.5},"encoding":{"x":{"datum":15},"y":{"datum":0.80}}},
  {"data":{"values":[{}]},"mark":{"type":"text","text":"Coulombic efficiency","fontSize":10.5},"encoding":{"x":{"datum":15},"y":{"datum":0.695}}},
  {"data":{"values":[{}]},"mark":{"type":"text","text":"97.8%","fontSize":10.5},"encoding":{"x":{"datum":15},"y":{"datum":0.605}}},
  {"data":{"values":[{}]},"mark":{"type":"text","text":"Charge to 1.4 V","fontSize":10,"align":"left","dx":1},"encoding":{"x":{"datum":-3},"y":{"datum":0.43}}},
  {"data":{"values":[{}]},"mark":{"type":"text","text":"SOC  100%","fontSize":10},"encoding":{"x":{"datum":1.83},"y":{"datum":0.33}}},
  {"data":{"values":[{}]},"mark":{"type":"text","text":"f","fontSize":22,"align":"left","baseline":"alphabetic","color":"#111"},"encoding":{"x":{"datum":-6.5},"y":{"datum":1.476}}}
 ]}
],"spacing":0,"bounds":"flush","resolve":{"scale":{"color":"independent"},"legend":{"color":"independent"}}},
{"hconcat":[
{"width":53,"height":212.4,"view":{"stroke":null},"data":{"values":[]},"mark":"point"},
{"width":711,"height":158,
 "layer":[
  {"data":{"name":"gce"},"transform":[{"fold":["Bare Zn","Zn@CuC₉"],"as":["s","ce"]}],
   "encoding":{
    "x":{"field":"c","type":"quantitative","scale":{"domain":[0,2000],"nice":false},"axis":{"values":[0,500,1000,1500,2000],"tickCount":30,"format":"d","title":"Cycle number","labelPadding":8,"tickSize":5,"titlePadding":9,"labelOverlap":false}},
    "y":{"field":"ce","type":"quantitative","scale":{"domain":[0,120],"nice":false},"axis":{"orient":"right","values":[0,20,40,60,80,100,120],"tickCount":30,"title":"CE (%)","titleAngle":270,"titleBaseline":"top","labelOverlap":false}},
    "color":{"field":"s","type":"nominal","scale":{"domain":["Bare Zn","Zn@CuC₉"],"range":["#5ea9c1","#f7866d"]}}},
   "layer":[
    {"transform":[{"filter":"datum.c > 1"}],"mark":{"type":"line","strokeWidth":0.8}},
    {"mark":{"type":"square","filled":true,"size":45,"opacity":1}}
   ]},
  {"layer":[
    {"data":{"name":"gcap"},"transform":[{"fold":["Bare Zn","Zn@CuC₉"],"as":["s","cap"]}],"mark":{"type":"circle","size":48,"opacity":1},
     "encoding":{
      "x":{"field":"c","type":"quantitative"},
      "y":{"field":"cap","type":"quantitative","scale":{"domain":[-20,300],"nice":false},"axis":{"orient":"left","values":[0,50,100,150,200,250,300],"tickCount":30,"title":"Capacity (mAh g⁻¹)","labelOverlap":false}},
      "color":{"field":"s","type":"nominal","legend":{"orient":"none","legendX":76,"legendY":45.5,"title":null,"symbolType":"circle","symbolSize":50,"labelFontSize":13,"rowPadding":7,"labelOffset":18}}}},
    {"data":{"values":[{}]},"mark":{"type":"text","text":"2 A g⁻¹","fontSize":13},"encoding":{"x":{"datum":1000},"y":{"datum":152}}},
    {"data":{"values":[{}]},"mark":{"type":"text","text":"g","fontSize":22,"align":"left","baseline":"alphabetic","color":"#111"},"encoding":{"x":{"datum":-112.5},"y":{"datum":316}}}
  ]}
 ],
 "resolve":{"scale":{"y":"independent"}}
}
],"spacing":0,"bounds":"flush"},
{"hconcat":[
{"width":49,"height":1,"view":{"stroke":null},"data":{"values":[]},"mark":"point"},
{"width":309,"height":142,
 "layer":[
  {"data":{"name":"hce"},
   "encoding":{
    "x":{"field":"c","type":"quantitative","scale":{"domain":[0,1000],"nice":false},"axis":{"values":[0,200,400,600,800,1000],"tickCount":30,"format":"d","title":"Cycle number","tickSize":4,"labelPadding":2,"titlePadding":0,"labelOverlap":false}},
    "y":{"field":"v","type":"quantitative","scale":{"domain":[0,120],"nice":false},"axis":{"orient":"right","values":[0,20,40,60,80,100,120],"tickCount":30,"title":"CE (%)","titleAngle":270,"titleBaseline":"top","labelOverlap":false}},
    "color":{"field":"s","type":"nominal","scale":{"domain":["Bare Zn","Zn@CuC₉"],"range":["#5ea9c1","#f7866d"]}}},
   "layer":[
    {"mark":{"type":"line","strokeWidth":0.8}},
    {"mark":{"type":"square","filled":true,"size":36,"opacity":1}}
   ]},
  {"layer":[
    {"data":{"name":"hcap"},"mark":{"type":"circle","size":36,"opacity":1},
     "encoding":{
      "x":{"field":"c","type":"quantitative"},
      "y":{"field":"v","type":"quantitative","scale":{"domain":[0,300],"nice":false},"axis":{"orient":"left","values":[0,50,100,150,200,250,300],"tickCount":30,"title":"Capacity (mAh g⁻¹)","labelPadding":7,"tickSize":5,"titlePadding":1,"labelOverlap":false}},
      "color":{"field":"s","type":"nominal","legend":{"orient":"none","legendX":19.8,"legendY":40,"title":null,"symbolType":"circle","symbolSize":40,"labelFontSize":12,"rowPadding":4.6,"labelOffset":12.9}}}},
    {"data":{"values":[{}]},"mark":{"type":"text","text":"2 A g⁻¹","fontSize":13},"encoding":{"x":{"datum":466},"y":{"datum":135}}},
    {"data":{"values":[{}]},"mark":{"type":"text","text":"N/P=5","fontSize":12,"align":"left"},"encoding":{"x":{"datum":19},"y":{"datum":23}}},
    {"data":{"values":[{}]},"mark":{"type":"text","text":"h","fontSize":22,"align":"left","baseline":"alphabetic","color":"#111"},"encoding":{"x":{"datum":-158.6},"y":{"datum":276.8}}}
  ]}
 ],
 "resolve":{"scale":{"y":"independent"}}
},
{"width":100,"height":1,"view":{"stroke":null},"data":{"values":[]},"mark":"point"},
{"width":310,"height":142,
 "layer":[
  {"data":{"name":"ice"},
   "encoding":{
    "x":{"field":"c","type":"quantitative","scale":{"domain":[0,500],"nice":false},"axis":{"values":[0,100,200,300,400,500],"tickCount":30,"format":"d","title":"Cycle number","tickSize":4,"labelPadding":2,"titleFontSize":12,"titlePadding":0,"labelOverlap":false}},
    "y":{"field":"v","type":"quantitative","scale":{"domain":[0,120],"nice":false},"axis":{"orient":"right","values":[0,20,40,60,80,100,120],"tickCount":30,"title":"CE (%)","titleAngle":270,"titleBaseline":"top","labelOverlap":false}},
    "color":{"field":"s","type":"nominal","scale":{"domain":["Bare Zn","Zn@CuC₉"],"range":["#5ea9c1","#f7866d"]}}},
   "layer":[
    {"mark":{"type":"line","strokeWidth":0.8}},
    {"mark":{"type":"square","filled":true,"size":36,"opacity":1}}
   ]},
  {"layer":[
    {"data":{"name":"icap"},"mark":{"type":"circle","size":36,"opacity":1},
     "encoding":{
      "x":{"field":"c","type":"quantitative"},
      "y":{"field":"v","type":"quantitative","scale":{"domain":[-20,300],"nice":false},"axis":{"orient":"left","values":[0,50,100,150,200,250,300],"tickCount":30,"title":"Capacity (mAh g⁻¹)","labelPadding":7,"tickSize":5,"titlePadding":1,"labelOverlap":false}},
      "color":{"field":"s","type":"nominal","legend":{"orient":"none","legendX":18.8,"legendY":39,"title":null,"symbolType":"circle","symbolSize":40,"labelFontSize":12,"rowPadding":7,"labelOffset":13.6}}}},
    {"data":{"values":[{}]},"mark":{"type":"text","text":"2 A g⁻¹","fontSize":13},"encoding":{"x":{"datum":235},"y":{"datum":140}}},
    {"data":{"values":[{}]},"mark":{"type":"text","text":"N/P=1","fontSize":12,"align":"left"},"encoding":{"x":{"datum":11},"y":{"datum":2}}},
    {"data":{"values":[{}]},"mark":{"type":"text","text":"i","fontSize":22,"align":"left","baseline":"alphabetic","color":"#111"},"encoding":{"x":{"datum":-85.5},"y":{"datum":277.5}}}
  ]}
 ],
 "resolve":{"scale":{"y":"independent"}}
}
],"spacing":0,"bounds":"flush","resolve":{"scale":{"color":"independent"},"legend":{"color":"independent"}}}
]
}
